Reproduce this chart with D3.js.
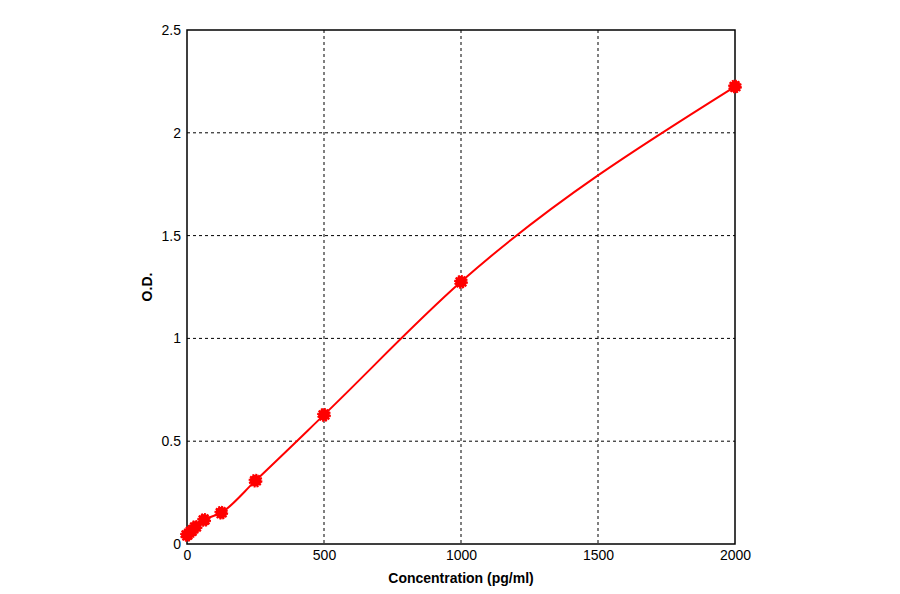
<!DOCTYPE html>
<html><head><meta charset="utf-8">
<script src="https://cdn.jsdelivr.net/npm/d3@7"></script>
<style>body{margin:0;background:#fff}</style></head>
<body><svg id="c" width="900" height="594"></svg>
<script>
const conc=[0,15.6,31.25,62.5,125,250,500,1000,2000];
const od=[0.044,0.062,0.083,0.117,0.152,0.308,0.628,1.275,2.225];
const xTicks=[0,500,1000,1500,2000];
const yTicks=[0,0.5,1,1.5,2,2.5];
const svg=d3.select("#c");
const L=187,R=735,T=30,B=544;
const x=d3.scaleLinear().domain([0,2000]).range([L,R]);
const y=d3.scaleLinear().domain([0,2.5]).range([B,T]);
const g=svg.append("g");
xTicks.slice(1,-1).forEach(t=>g.append("line").attr("x1",x(t)).attr("x2",x(t)).attr("y1",T).attr("y2",B).attr("stroke","#000").attr("stroke-dasharray","3,3"));
yTicks.slice(1,-1).forEach(t=>g.append("line").attr("x1",L).attr("x2",R).attr("y1",y(t)).attr("y2",y(t)).attr("stroke","#000").attr("stroke-dasharray","3,3"));
g.append("rect").attr("x",L).attr("y",T).attr("width",R-L).attr("height",B-T).attr("fill","none").attr("stroke","#000").attr("stroke-width",1.5);
const f="font-family:Arial,'Liberation Sans';font-size:14px";
const xa=svg.append("g").attr("transform",`translate(0,${B})`).call(d3.axisBottom(x).tickValues(xTicks).tickSize(0).tickPadding(6).tickFormat(d3.format("d")));
xa.select(".domain").remove();
xa.selectAll("text").attr("style",f).attr("fill","#000");
const ya=svg.append("g").attr("transform",`translate(${L},0)`).call(d3.axisLeft(y).tickValues(yTicks).tickSize(0).tickPadding(6).tickFormat(d=>String(d)));
ya.select(".domain").remove();
ya.selectAll("text").attr("style",f).attr("fill","#000");
svg.append("text").attr("x",461).attr("y",583).attr("text-anchor","middle").attr("style","font-family:Arial,'Liberation Sans';font-size:14px;font-weight:bold").text("Concentration (pg/ml)");
svg.append("text").attr("transform","translate(152,287) rotate(-90)").attr("text-anchor","middle").attr("style","font-family:Arial,'Liberation Sans';font-size:14px;font-weight:bold").text("O.D.");
const pts=conc.map((c,i)=>[c,od[i]]);
svg.append("path").datum(pts).attr("d",d3.line().x(d=>x(d[0])).y(d=>y(d[1])).curve(d3.curveMonotoneX)).attr("fill","none").attr("stroke","#f00").attr("stroke-width",2);
svg.selectAll("circle.p").data(pts).join("path").attr("transform",d=>`translate(${x(d[0])},${y(d[1])})`).attr("d",d3.symbol(d3.symbolCircle,110)).attr("fill","#f00").attr("stroke","#f00").attr("stroke-width",2).attr("stroke-dasharray","2,1");
</script></body></html>
